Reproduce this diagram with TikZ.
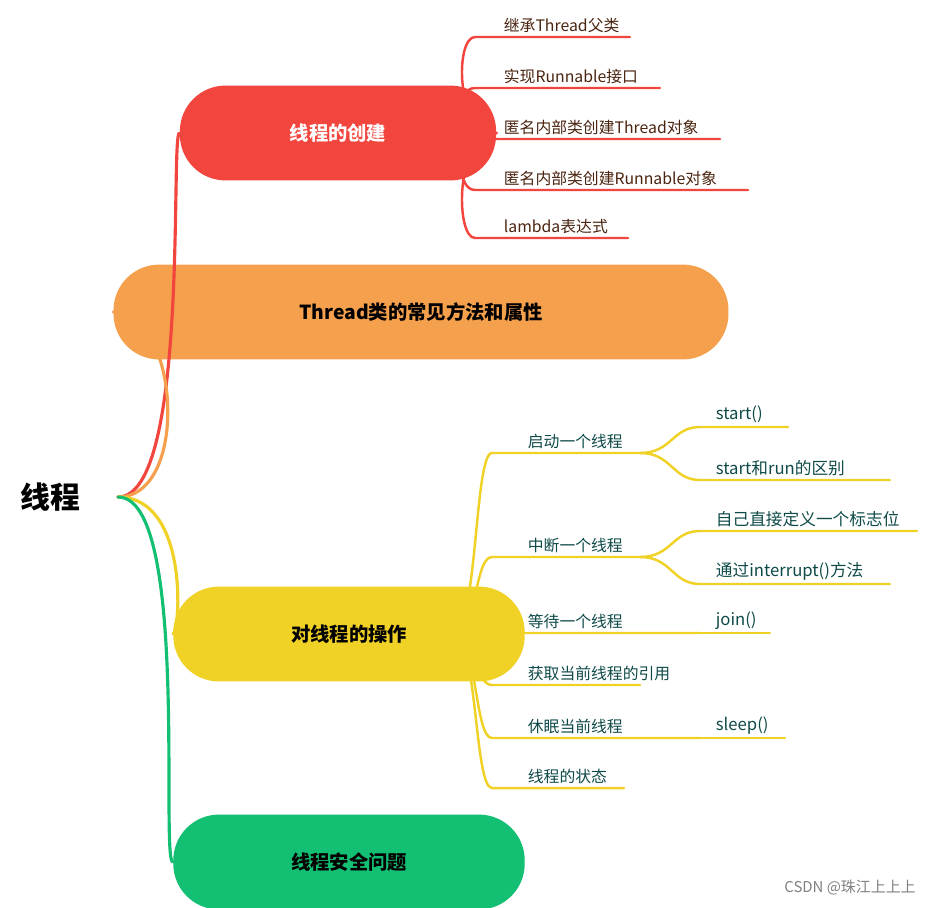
\documentclass[tikz,border=0pt]{standalone}
\usepackage{fontspec}
\setmainfont{Noto Sans CJK SC}
\usetikzlibrary{positioning}

\definecolor{redc}{HTML}{F2453D}
\definecolor{orangec}{HTML}{F5A04C}
\definecolor{yellowc}{HTML}{F0D126}
\definecolor{greenc}{HTML}{12BF73}
\definecolor{redtext}{HTML}{4A2410}
\definecolor{yeltext}{HTML}{0E4A48}

\tikzset{
  branchnode/.style={rounded corners=26, minimum height=54, inner xsep=12pt, text=white, font=\fontsize{11}{13}\selectfont\bfseries},
  leaftext/.style={anchor=south west, inner sep=2pt, font=\fontsize{9}{11}\selectfont},
  trunk/.style={line width=1.8pt, line cap=round},
  twig/.style={line width=1.4pt, line cap=round}
}

\begin{document}
\begin{tikzpicture}[x=0.02cm,y=-0.02cm]
	\useasboundingbox (0,0) rectangle (952,907);

	% root and main branches
	\node (root) at (50,497) {\fontsize{17}{20}\selectfont\bfseries 线程};
	\coordinate (r0) at (118,497);
	\node[branchnode, fill=redc, minimum width=180] (create) at (338,133) {线程的创建};
	\node[branchnode, fill=orangec, minimum width=350, text=black] (props) at (421,312) {Thread类的常见方法和属性};
	\node[branchnode, fill=yellowc, minimum width=200, text=black] (ops) at (349,634) {对线程的操作};
	\node[branchnode, fill=greenc, minimum width=200, text=black] (safe) at (349,862) {线程安全问题};

	\draw[trunk, redc] (r0) .. controls (190,497) and (170,133) .. (create.west);
	\draw[trunk, orangec] (r0) .. controls (190,497) and (180,312) .. (props.west);
	\draw[trunk, yellowc] (r0) .. controls (190,497) and (180,634) .. (ops.west);
	\draw[trunk, greenc] (r0) .. controls (190,497) and (160,862) .. (safe.west);

	% leaves of the creation branch
	\foreach \y/\xe/\txt [count=\i] in {37/630/继承Thread父类, 88/660/实现Runnable接口, 139/720/匿名内部类创建Thread对象, 190/748/匿名内部类创建Runnable对象, 238/628/lambda表达式} {
		\coordinate (c\i) at (475,\y);
		\node[leaftext, text=redtext] (ct\i) at (500,\y) {\txt};
		\draw[twig, redc] (create.east) .. controls (455,133) and (455,\y) .. (c\i) -- (\xe,\y);
	}

	% leaves of the operation branch
	\coordinate (o0) at (452,634);
	\foreach \y/\xe/\txt [count=\i] in {453/640/启动一个线程, 557/640/中断一个线程, 633/700/等待一个线程, 685/640/获取当前线程的引用, 738/700/休眠当前线程, 788/624/线程的状态} {
		\coordinate (o\i) at (492,\y);
		\coordinate (oe\i) at (\xe,\y);
		\node[leaftext, text=yeltext] (ot\i) at (524,\y) {\txt};
		\draw[twig, yellowc] (o0) .. controls (478,634) and (474,\y) .. (o\i) -- (oe\i);
	}

	% second level
	\foreach \p/\py/\y/\xe/\txt [count=\j] in {1/453/427/788/start(), 1/453/480/890/start和run的区别, 2/557/531/917/自己直接定义一个标志位, 2/557/584/890/通过interrupt()方法} {
		\coordinate (s\j) at (700,\y);
		\node[leaftext, text=yeltext, font=\fontsize{9.5}{11}\selectfont] (st\j) at (712,\y) {\txt};
		\draw[twig, yellowc] (oe\p) .. controls (672,\py) and (672,\y) .. (s\j) -- (\xe,\y);
	}
	\node[leaftext, text=yeltext, font=\fontsize{9.5}{11}\selectfont] (join) at (712,633) {join()};
	\draw[twig, yellowc] (oe3) -- (770,633);
	\node[leaftext, text=yeltext, font=\fontsize{9.5}{11}\selectfont] (sleep) at (712,738) {sleep()};
	\draw[twig, yellowc] (oe5) -- (785,738);

	\node[text=gray, font=\fontsize{8.5}{10}\selectfont] (mark) at (850,887) {CSDN @珠江上上上};
\end{tikzpicture}
\end{document}
